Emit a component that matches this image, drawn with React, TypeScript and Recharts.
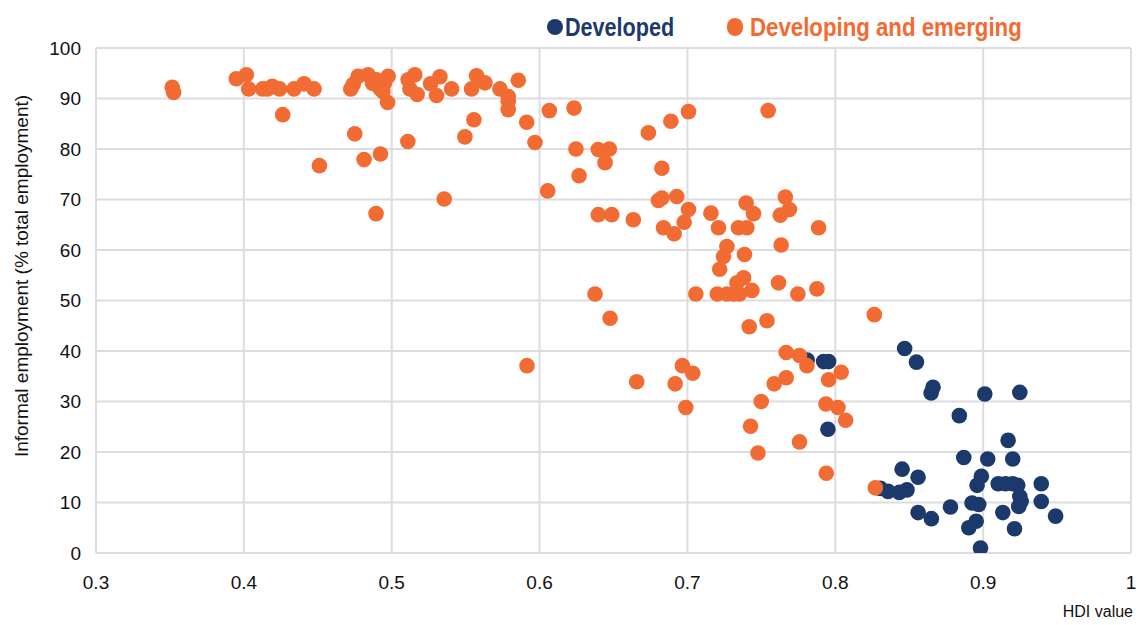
import React from 'react';
import { ScatterChart, Scatter, XAxis, YAxis, CartesianGrid, Legend, Label } from 'recharts';

const BLUE = '#1b3a6b';
const ORANGE = '#f26b33';
const GRID = '#dcdce2';

const xTicks = [0.3, 0.4, 0.5, 0.6, 0.7, 0.8, 0.9, 1];
const yTicks = [0, 10, 20, 30, 40, 50, 60, 70, 80, 90, 100];

const seriesNames = ['Developed', 'Developing and emerging'];
const xAxisTitle = 'HDI value';
const yAxisTitle = 'Informal employment (% total employment)';

// [HDI value, informal employment %]
const developedPoints: [number, number][] = [
  [0.781, 38.2], [0.7921, 37.9], [0.7955, 37.9], [0.795, 24.5],
  [0.8469, 40.5], [0.8549, 37.8], [0.8661, 32.8], [0.8648, 31.7], [0.9011, 31.5], [0.9248, 31.8],
  [0.8839, 27.2], [0.9169, 22.3], [0.8869, 18.9], [0.9031, 18.6], [0.92, 18.6], [0.8452, 16.6],
  [0.856, 15.0], [0.8988, 15.2], [0.8959, 13.4], [0.9102, 13.7], [0.9151, 13.7], [0.92, 13.7],
  [0.9234, 13.4], [0.9393, 13.7], [0.8305, 12.8], [0.8357, 12.2], [0.8433, 12.0], [0.8485, 12.5],
  [0.9248, 11.2], [0.9257, 10.2], [0.9241, 9.2], [0.9393, 10.2], [0.8925, 9.9], [0.897, 9.6],
  [0.8779, 9.1], [0.9133, 8.0], [0.856, 8.0], [0.865, 6.8], [0.8953, 6.3], [0.8903, 5.0],
  [0.9212, 4.8], [0.949, 7.3], [0.8982, 1.0],
];

const developingPoints: [number, number][] = [
  [0.3516, 92.2], [0.3525, 91.2],
  [0.3949, 93.9], [0.4017, 94.7], [0.4033, 91.9], [0.4127, 91.9], [0.416, 91.9], [0.4193, 92.4],
  [0.4242, 91.9], [0.4263, 86.8], [0.4339, 91.9], [0.4407, 92.9], [0.4475, 91.9], [0.4511, 76.7],
  [0.4723, 91.9], [0.474, 92.8], [0.475, 83.0], [0.4773, 94.4], [0.4813, 77.9], [0.484, 94.7],
  [0.487, 93.0], [0.4897, 93.7], [0.4894, 67.2], [0.4924, 79.0], [0.492, 92.0], [0.494, 91.4],
  [0.4972, 89.2], [0.4976, 94.4], [0.495, 93.0],
  [0.5111, 93.7], [0.5156, 94.7], [0.5123, 91.9], [0.5172, 90.8], [0.5109, 81.5], [0.5263, 92.9],
  [0.5326, 94.3], [0.5303, 90.6], [0.5405, 91.9], [0.5355, 70.1], [0.5495, 82.4], [0.554, 91.9],
  [0.5556, 85.8], [0.5574, 94.5], [0.563, 93.1], [0.5732, 91.9], [0.5788, 90.4], [0.5788, 89.4],
  [0.5788, 87.8], [0.5856, 93.6], [0.5913, 85.3], [0.5915, 37.1], [0.5969, 81.3],
  [0.6055, 71.7], [0.6066, 87.6], [0.6233, 88.1], [0.6246, 80.0], [0.6267, 74.7], [0.6375, 51.3],
  [0.6397, 79.9], [0.6397, 67.0], [0.6443, 77.3], [0.6472, 80.0], [0.6488, 67.0], [0.6477, 46.5],
  [0.6634, 66.0], [0.6657, 33.9], [0.6736, 83.2], [0.6804, 69.8], [0.6827, 70.3], [0.6827, 76.2],
  [0.6838, 64.4], [0.6888, 85.5], [0.691, 63.2], [0.6917, 33.5], [0.6928, 70.6], [0.6966, 37.1],
  [0.6978, 65.5], [0.6989, 28.8], [0.7007, 68.0], [0.7007, 87.4], [0.7036, 35.6], [0.7057, 51.3],
  [0.7159, 67.3], [0.721, 64.4], [0.7202, 51.3], [0.7218, 56.2], [0.7244, 58.7], [0.7267, 60.7],
  [0.7267, 51.3], [0.7313, 51.3], [0.7335, 53.5], [0.7352, 51.3], [0.7345, 64.4], [0.738, 54.5],
  [0.7386, 59.1], [0.7397, 69.3], [0.7402, 64.4], [0.7418, 44.8], [0.7427, 25.1], [0.7436, 52.0],
  [0.7447, 67.2], [0.7477, 19.8], [0.7499, 30.0], [0.7538, 46.0], [0.7546, 87.6], [0.7587, 33.5],
  [0.7616, 53.5], [0.7628, 66.9], [0.7634, 61.0], [0.7662, 70.5], [0.7668, 39.7], [0.7668, 34.7],
  [0.769, 68.0], [0.7747, 51.3], [0.7758, 39.1], [0.7758, 22.0], [0.7808, 37.1], [0.7876, 52.3],
  [0.7887, 64.4], [0.7937, 29.5], [0.7939, 15.8], [0.7955, 34.3], [0.8018, 28.8], [0.804, 35.8],
  [0.807, 26.3], [0.8264, 47.2], [0.8271, 12.9],
];

const toRows = (pts: [number, number][]) => pts.map(([x, y]) => ({ x, y }));
const developedData = toRows(developedPoints);
const developingData = toRows(developingPoints);

const TICK_FONT = "'Liberation Sans', Arial, sans-serif";
const LEGEND_FONT = "'Liberation Sans', Arial, sans-serif";

const makeDot = (color: string) => (props: any) => {
  const { cx, cy } = props;
  if (cx == null || cy == null) return <g />;
  return <circle cx={cx} cy={cy} r={7.8} fill={color} />;
};

const legendText = (left: number, color: string, scale: number, text: string) => (
  <span
    style={{
      position: 'absolute',
      left,
      top: 10,
      fontSize: 26,
      fontWeight: 700,
      color,
      lineHeight: '34px',
      whiteSpace: 'nowrap',
      fontFamily: LEGEND_FONT,
      transform: `scaleX(${scale})`,
      transformOrigin: 'left center',
    }}
  >
    {text}
  </span>
);

const renderLegend = () => (
  <div style={{ position: 'relative', width: 1139, height: 45 }}>
    <span style={{ position: 'absolute', left: 547, top: 19, width: 16, height: 16, borderRadius: 8, background: BLUE }} />
    {legendText(565, BLUE, 0.83, seriesNames[0])}
    <span style={{ position: 'absolute', left: 727, top: 18, width: 16, height: 18, borderRadius: 9, background: ORANGE }} />
    {legendText(750, ORANGE, 0.855, seriesNames[1])}
  </div>
);

const renderYTitle = () => (
  <text
    x={21}
    y={276}
    transform="rotate(-90 21 276)"
    textAnchor="middle"
    dominantBaseline="central"
    fontFamily={TICK_FONT}
    fontSize={19}
    fill="#111"
  >
    {yAxisTitle}
  </text>
);

const renderXTitle = () => (
  <text x={1133} y={617} textAnchor="end" fontFamily={TICK_FONT} fontSize={16} fill="#111">
    {xAxisTitle}
  </text>
);

export default function App() {
  return (
    <div style={{ position: 'absolute', left: 0, top: 0, width: 1139, height: 625, background: '#fff' }}>
      <ScatterChart width={1139} height={625} margin={{ top: 48, right: 8, bottom: 4, left: 0 }}>
        <CartesianGrid stroke={GRID} strokeWidth={2} />
        <XAxis
          type="number"
          dataKey="x"
          domain={[0.3, 1]}
          ticks={xTicks}
          tickFormatter={(v: number) => String(v)}
          height={68}
          tickSize={0}
          tickMargin={23}
          axisLine={{ stroke: GRID, strokeWidth: 2 }}
          tick={{ fill: '#111', fontSize: 19, fontFamily: TICK_FONT }}
          allowDataOverflow
        >
          <Label content={renderXTitle} />
        </XAxis>
        <YAxis
          type="number"
          dataKey="y"
          domain={[0, 100]}
          ticks={yTicks}
          width={96}
          tickSize={0}
          tickMargin={15}
          axisLine={{ stroke: GRID, strokeWidth: 2 }}
          tick={{ fill: '#111', fontSize: 19, fontFamily: TICK_FONT }}
          allowDataOverflow
        >
          <Label content={renderYTitle} />
        </YAxis>
        <Legend
          layout="horizontal"
          verticalAlign="middle"
          align="center"
          content={renderLegend}
          wrapperStyle={{ position: 'absolute', top: 0, left: 0, width: 1139, height: 45 }}
        />
        <Scatter name={seriesNames[0]} data={developedData} fill={BLUE} shape={makeDot(BLUE)} isAnimationActive={false} />
        <Scatter name={seriesNames[1]} data={developingData} fill={ORANGE} shape={makeDot(ORANGE)} isAnimationActive={false} />
      </ScatterChart>
    </div>
  );
}
